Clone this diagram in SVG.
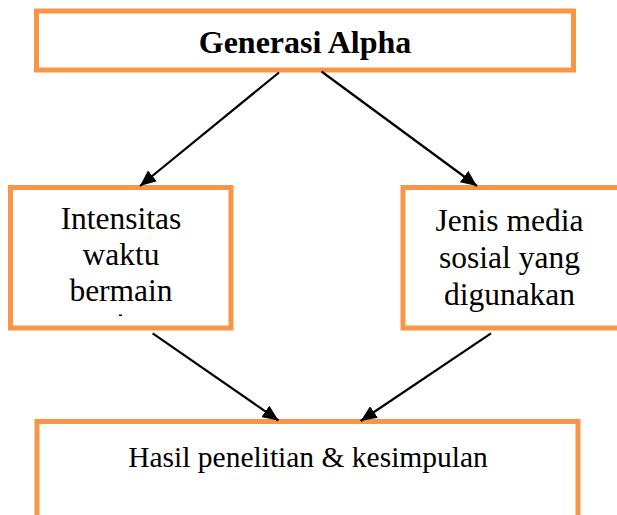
<svg xmlns="http://www.w3.org/2000/svg" width="617" height="515" viewBox="0 0 617 515">
<style>
.box{fill:#fff;stroke:#F79646;stroke-width:5;}
.t{font-family:"Liberation Serif","Times New Roman",serif;fill:#000;text-anchor:middle;}
.side{font-size:31.5px;}
.title{font-size:32px;font-weight:bold;}
.bottom{font-size:29.5px;}
.conn{stroke:#000;stroke-width:2.2;fill:none;marker-end:url(#ah);}
</style>
<defs>
<marker id="ah" markerUnits="userSpaceOnUse" markerWidth="18" markerHeight="14" refX="16" refY="7" orient="auto">
<path d="M0,0 L16,7 L0,14 Z" fill="#000"/>
</marker>
</defs>
<rect width="617" height="515" fill="#fff"/>
<g id="node-generasi">
<rect class="box" x="36.5" y="11" width="537" height="59"/>
<text class="t title" x="305" y="53">Generasi Alpha</text>
</g>
<g id="node-intensitas">
<rect class="box" x="10.5" y="187.5" width="220.5" height="140.5"/>
<text class="t side" x="121" y="228.5">Intensitas</text>
<text class="t side" x="121" y="264.5">waktu</text>
<text class="t side" x="121" y="300.5">bermain</text>
<rect x="119" y="314.5" width="3" height="1.5" fill="#000"/>
</g>
<g id="node-jenis">
<rect class="box" x="403" y="187.5" width="230" height="140.5"/>
<text class="t side" x="509.5" y="231">Jenis media</text>
<text class="t side" x="509.5" y="268">sosial yang</text>
<text class="t side" x="509.5" y="305">digunakan</text>
</g>
<g id="node-hasil">
<rect class="box" x="37" y="421.5" width="541" height="110"/>
<text class="t bottom" x="308" y="467">Hasil penelitian &amp; kesimpulan</text>
</g>
<g id="connectors">
<path class="conn" d="M279,72.5 L140,186"/>
<path class="conn" d="M321.5,71.5 L477,186"/>
<path class="conn" d="M152.7,333.3 L278.5,420.5"/>
<path class="conn" d="M491,333.3 L360.7,421"/>
</g>
</svg>
